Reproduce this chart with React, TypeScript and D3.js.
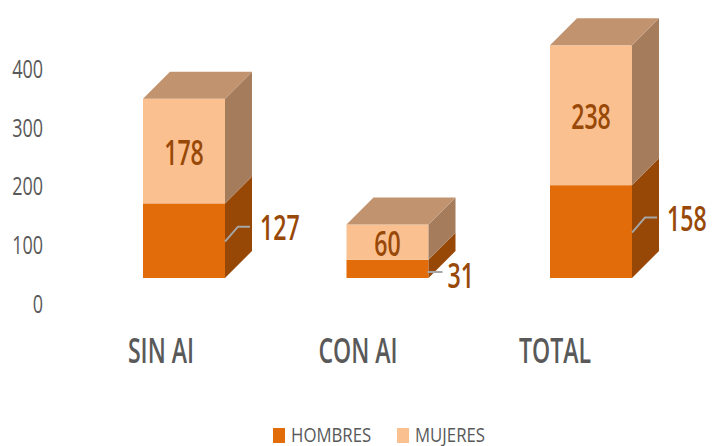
import React from "react";
import * as d3 from "d3";

const categories = ["SIN AI", "CON AI", "TOTAL"];
const hombres = [127, 31, 158];
const mujeres = [178, 60, 238];
const yTicks = [0, 100, 200, 300, 400];
const seriesNames = ["HOMBRES", "MUJERES"];

const W = 716;
const H = 446;
const DX = 27;
const DY = -27;
const BAR_W = 82;
const FONT = "'Open Sans', 'Noto Sans', sans-serif";

const C = {
  darkFront: "#E36C0A",
  darkSide: "#974706",
  lightFront: "#FAC090",
  lightSide: "#A67D5C",
  lightTop: "#C2936F",
  label: "#984807",
  text: "#595959",
  leader: "#A6A6A6",
};

function SText({ x, y, sx, size, weight, fill, anchor, children, baseline }: any) {
  return (
    <g transform={`translate(${x},${y}) scale(${sx},1)`}>
      <text
        x={0}
        y={0}
        fontFamily={FONT}
        fontSize={size}
        fontWeight={weight}
        fill={fill}
        textAnchor={anchor}
        dominantBaseline={baseline || "auto"}
      >
        {children}
      </text>
    </g>
  );
}

export default function App() {
  const y = d3.scaleLinear().domain([0, 400]).range([278, 43]);
  const xc = d3.scalePoint<string>().domain(categories).range([184, 591]);
  const xl = d3.scalePoint<string>().domain(categories).range([161, 555]);

  const poly = (pts: number[][]) => "M" + pts.map((p) => p.join(",")).join("L") + "Z";

  return (
    <svg
      width={W}
      height={H}
      style={{ position: "absolute", left: 0, top: 0, background: "#fff" }}
    >
      {/* axis tick labels */}
      {yTicks.map((t) => (
        <SText
          key={t}
          x={43}
          y={y(t) + 25}
          sx={0.72}
          size={25}
          weight={400}
          fill={C.text}
          anchor="end"
          baseline="central"
        >
          {t}
        </SText>
      ))}

      {/* bars */}
      {categories.map((cat, i) => {
        const cx = xc(cat)!;
        const l = cx - BAR_W / 2;
        const r = cx + BAR_W / 2;
        const y0 = y(0);
        const y1 = y(hombres[i]);
        const y2 = y(hombres[i] + mujeres[i]);
        const midLight = (y1 + y2) / 2;
        const midDark = (y0 + y1) / 2;
        const innerLabelY = midLight;
        const pushed = midDark - 14 < innerLabelY + 30;
        const outY = pushed ? y0 - 4 : midDark - 14;
        const labelX = pushed ? r + 19 : r + 35;
        const sy = Math.min(outY + 15, y0 - 6);
        const leader = pushed
          ? `M${r - 1},${outY - 2}L${labelX - 5},${outY - 2}`
          : `M${r},${sy}L${labelX - 22},${outY}L${labelX - 10},${outY}`;
        return (
          <g key={cat}>
            {/* dark segment */}
            <rect x={l} y={y1} width={BAR_W} height={y0 - y1} fill={C.darkFront} />
            <path
              d={poly([
                [r, y0],
                [r + DX, y0 + DY],
                [r + DX, y1 + DY],
                [r, y1],
              ])}
              fill={C.darkSide}
            />
            {/* light segment */}
            <rect x={l} y={y2} width={BAR_W} height={y1 - y2} fill={C.lightFront} />
            <path
              d={poly([
                [r, y1],
                [r + DX, y1 + DY],
                [r + DX, y2 + DY],
                [r, y2],
              ])}
              fill={C.lightSide}
            />
            {/* top */}
            <path
              d={poly([
                [l, y2],
                [l + DX, y2 + DY],
                [r + DX, y2 + DY],
                [r, y2],
              ])}
              fill={C.lightTop}
            />
            {/* labels */}
            <SText
              x={cx}
              y={innerLabelY}
              sx={0.66}
              size={35}
              weight={600}
              fill={C.label}
              anchor="middle"
              baseline="central"
            >
              {mujeres[i]}
            </SText>
            <path d={leader} fill="none" stroke={C.leader} strokeWidth={2} />
            <SText
              x={labelX}
              y={outY}
              sx={0.66}
              size={35}
              weight={600}
              fill={C.label}
              anchor="start"
              baseline="central"
            >
              {hombres[i]}
            </SText>
            {/* category label */}
            <SText
              x={xl(cat)!}
              y={363}
              sx={0.66}
              size={35}
              weight={600}
              fill={C.text}
              anchor="middle"
            >
              {cat}
            </SText>
          </g>
        );
      })}

      {/* legend */}
      {seriesNames.map((s, i) => {
        const lx = [273, 397][i];
        return (
          <g key={s}>
            <rect x={lx} y={428} width={12} height={15} fill={i === 0 ? C.darkFront : C.lightFront} />
            <SText x={lx + 18} y={442} sx={0.84} size={20} weight={400} fill={C.text} anchor="start">
              {s}
            </SText>
          </g>
        );
      })}
    </svg>
  );
}
